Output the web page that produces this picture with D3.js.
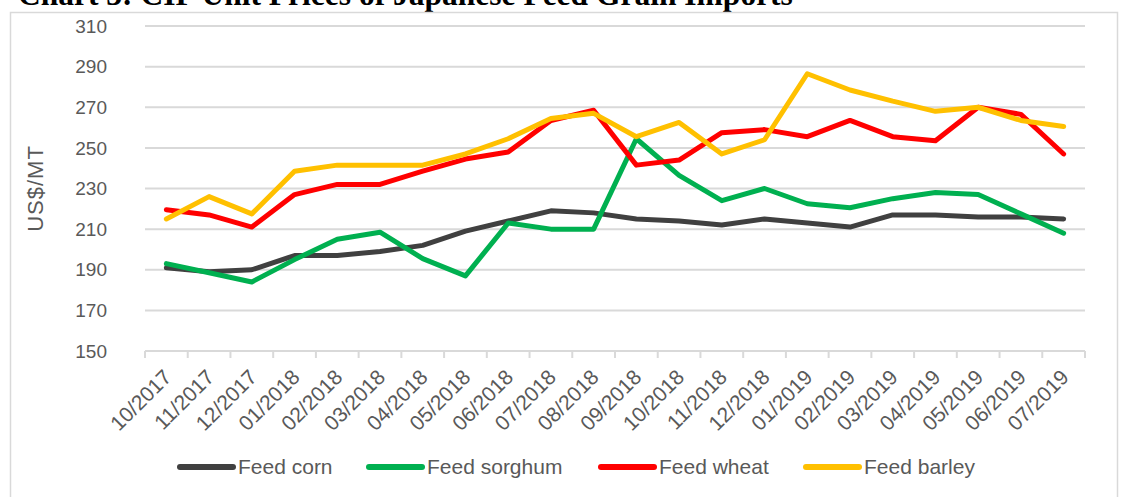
<!DOCTYPE html>
<html>
<head>
<meta charset="utf-8">
<script src="https://cdn.jsdelivr.net/npm/d3@7"></script>
<style>
  body { margin: 0; background: #fff; }
  svg { display: block; }
</style>
</head>
<body>
<div id="chart"></div>
<script>
// datos (US$/MT)
const months = ["10/2017", "11/2017", "12/2017", "01/2018", "02/2018", "03/2018", "04/2018",
  "05/2018", "06/2018", "07/2018", "08/2018", "09/2018", "10/2018", "11/2018", "12/2018",
  "01/2019", "02/2019", "03/2019", "04/2019", "05/2019", "06/2019", "07/2019"];

const feedCorn = [191, 189, 190, 197, 197, 199, 202, 209, 214, 219, 218, 215, 214, 212, 215, 213, 211, 217, 217, 216, 216, 215];
const feedSorghum = [193, 188.5, 184, 195, 205, 208.5, 195.5, 187, 213, 210, 210, 254.5, 236.5, 224, 230, 222.5, 220.5, 225, 228, 227, 217.5, 208];
const feedWheat = [219.5, 217, 211, 227, 232, 232, 238.5, 244.5, 248, 263.5, 268.5, 241.5, 244, 257.5, 259, 255.5, 263.5, 255.5, 253.5, 270, 266.5, 247];
const feedBarley = [215, 226, 217.5, 238.5, 241.5, 241.5, 241.5, 247, 254.5, 264.5, 267, 255.5, 262.5, 247, 254, 286.5, 278.5, 273, 268, 270, 263.5, 260.5];

const yTicks = [150, 170, 190, 210, 230, 250, 270, 290, 310];

const series = [
  { name: "Feed corn", values: feedCorn, color: "#404040" },
  { name: "Feed sorghum", values: feedSorghum, color: "#00b050" },
  { name: "Feed wheat", values: feedWheat, color: "#ff0000" },
  { name: "Feed barley", values: feedBarley, color: "#ffc000" }
];

const width = 1123;
const height = 497;
const font = "'Liberation Sans', Arial, sans-serif";

const svg = d3.select("#chart")
  .append("svg")
  .attr("width", width)
  .attr("height", height);

// titulo cortado arriba (como en el original)
svg.append("text")
  .attr("x", 18)
  .attr("y", 5)
  .style("font-family", "'Liberation Serif', 'Times New Roman', serif")
  .style("font-weight", "bold")
  .style("font-size", "31.5px")
  .attr("fill", "#000")
  .text("Chart 3: CIF Unit Prices of Japanese Feed Grain Imports");

// marco del grafico
svg.append("rect")
  .attr("x", 10.5)
  .attr("y", 12.5)
  .attr("width", 1107)
  .attr("height", 500)
  .attr("fill", "none")
  .attr("stroke", "#d9d9d9")
  .attr("stroke-width", 1.5);

const x = d3.scaleBand()
  .domain(months)
  .range([145, 1085])
  .padding(0);

const y = d3.scaleLinear()
  .domain([150, 310])
  .range([351, 26]);

const cx = m => x(m) + x.bandwidth() / 2;

// lineas de rejilla
svg.append("g")
  .selectAll("line")
  .data(yTicks)
  .enter()
  .append("line")
  .attr("x1", 145)
  .attr("x2", 1085)
  .attr("y1", d => y(d))
  .attr("y2", d => y(d))
  .attr("stroke", "#d9d9d9")
  .attr("stroke-width", 2);

// etiquetas eje y
svg.append("g")
  .selectAll("text")
  .data(yTicks)
  .enter()
  .append("text")
  .attr("x", 107)
  .attr("y", d => y(d))
  .attr("dy", "0.35em")
  .attr("text-anchor", "end")
  .style("font-family", font)
  .style("font-size", "19px")
  .attr("fill", "#595959")
  .text(d => d);

// marcas del eje x
const tickPos = months.map(m => x(m)).concat([x.range()[1]]);
svg.append("g")
  .selectAll("line")
  .data(tickPos)
  .enter()
  .append("line")
  .attr("x1", d => d)
  .attr("x2", d => d)
  .attr("y1", y(150))
  .attr("y2", y(150) + 7)
  .attr("stroke", "#d9d9d9")
  .attr("stroke-width", 2);

// etiquetas eje x
svg.append("g")
  .selectAll("text")
  .data(months)
  .enter()
  .append("text")
  .attr("transform", d => `translate(${cx(d) - 4}, ${y(150) + 17}) rotate(-45)`)
  .attr("text-anchor", "end")
  .attr("dy", "0.7em")
  .style("font-family", font)
  .style("font-size", "21px")
  .attr("fill", "#595959")
  .text(d => d);

// titulo eje y
svg.append("text")
  .attr("transform", `translate(43, ${y(230)}) rotate(-90)`)
  .attr("text-anchor", "middle")
  .style("font-family", font)
  .style("font-size", "22px")
  .style("letter-spacing", "1px")
  .attr("fill", "#595959")
  .text("US$/MT");

const line = d3.line()
  .x((d, i) => cx(months[i]))
  .y(d => y(d));

svg.append("g")
  .selectAll("path")
  .data(series)
  .enter()
  .append("path")
  .attr("d", d => line(d.values))
  .attr("fill", "none")
  .attr("stroke", d => d.color)
  .attr("stroke-width", 5)
  .attr("stroke-linejoin", "round")
  .attr("stroke-linecap", "round");

// leyenda
const legendX = [180, 369, 601, 806];
const legend = svg.append("g");

series.forEach((s, i) => {
  const row = legend.append("g")
    .attr("transform", `translate(${legendX[i]}, 467)`);

  row.append("line")
    .attr("x1", 0)
    .attr("x2", 53)
    .attr("y1", 0)
    .attr("y2", 0)
    .attr("stroke", s.color)
    .attr("stroke-width", 6)
    .attr("stroke-linecap", "round");

  row.append("text")
    .attr("x", 58)
    .attr("y", 0)
    .attr("dy", "0.35em")
    .style("font-family", font)
    .style("font-size", "21px")
    .attr("fill", "#595959")
    .text(s.name);
});
</script>
</body>
</html>
